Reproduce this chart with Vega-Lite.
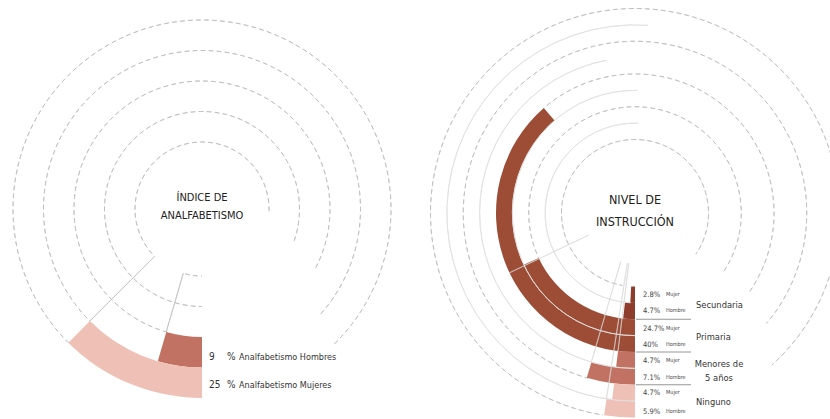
{
  "$schema": "https://vega.github.io/schema/vega-lite/v6.json",
  "width": 830,
  "height": 419,
  "padding": 0,
  "autosize": {"type": "none"},
  "background": "white",
  "config": {"view": {"stroke": null}},
  "datasets": {
    "rings": [
      {"chart": "A", "id": "A0a", "r": 0, "t1": 180, "t2": 196},
      {"chart": "A", "id": "A0b", "r": 0, "t1": 225, "t2": 453},
      {"chart": "A", "id": "A1", "r": 1, "t1": 180, "t2": 470},
      {"chart": "A", "id": "A2", "r": 2, "t1": 196, "t2": 478},
      {"chart": "A", "id": "A3", "r": 3, "t1": 225, "t2": 492},
      {"chart": "A", "id": "A4", "r": 4, "t1": 225, "t2": 496},
      {"chart": "B", "id": "B0", "r": 0, "t1": 190, "t2": 484},
      {"chart": "B", "id": "B2", "r": 2, "t1": 245, "t2": 484},
      {"chart": "B", "id": "B4", "r": 4, "t1": 319, "t2": 485},
      {"chart": "B", "id": "B6", "r": 6, "t1": 196, "t2": 490},
      {"chart": "B", "id": "B8", "r": 8, "t1": 189, "t2": 498}
    ],
    "solidrings": [
      {"chart": "B", "r": 1, "t1": 183, "t2": 362},
      {"chart": "B", "r": 3, "t1": 180, "t2": 361},
      {"chart": "B", "r": 5, "t1": 180, "t2": 349.6},
      {"chart": "B", "r": 7, "t1": 180, "t2": 364}
    ],
    "bars": [
      {"chart": "A", "cat": "Hombres", "pct": 9, "r1": 2, "r2": 3, "t1": 180, "t2": 196.2},
      {"chart": "A", "cat": "Mujeres", "pct": 25, "r1": 3, "r2": 4, "t1": 180, "t2": 225},
      {"chart": "B", "cat": "Secundaria", "sexo": "Mujer", "pct": 2.8, "r1": 0, "r2": 1, "t1": 180, "t2": 183},
      {"chart": "B", "cat": "Secundaria", "sexo": "Hombre", "pct": 4.7, "r1": 1, "r2": 2, "t1": 180, "t2": 186.4},
      {"chart": "B", "cat": "Primaria", "sexo": "Mujer", "pct": 24.7, "r1": 2, "r2": 3, "t1": 180, "t2": 245},
      {"chart": "B", "cat": "Primaria", "sexo": "Hombre", "pct": 40, "r1": 3, "r2": 4, "t1": 180, "t2": 319},
      {"chart": "B", "cat": "Menores", "sexo": "Mujer", "pct": 4.7, "r1": 4, "r2": 5, "t1": 180, "t2": 187},
      {"chart": "B", "cat": "Menores", "sexo": "Hombre", "pct": 7.1, "r1": 5, "r2": 6, "t1": 180, "t2": 196.3},
      {"chart": "B", "cat": "Ninguno", "sexo": "Mujer", "pct": 4.7, "r1": 6, "r2": 7, "t1": 180, "t2": 187},
      {"chart": "B", "cat": "Ninguno", "sexo": "Hombre", "pct": 5.9, "r1": 7, "r2": 8, "t1": 180, "t2": 188.7}
    ],
    "radials": [
      {"chart": "A", "r1": 0, "r2": 3, "t1": 225, "t2": 225.05},
      {"chart": "A", "r1": 0, "r2": 2, "t1": 196.2, "t2": 196.25},
      {"chart": "B", "r1": -1.35, "r2": 4, "t1": 244.5, "t2": 244.55},
      {"chart": "B", "r1": -1.4, "r2": 7, "t1": 188.7, "t2": 188.75},
      {"chart": "B", "r1": -1.4, "r2": 5, "t1": 196.3, "t2": 196.35},
      {"chart": "B", "r1": -1.4, "r2": 4, "t1": 187, "t2": 187.05}
    ],
    "titles": [
      {"chart": "A", "lines": ["ÍNDICE DE", "ANALFABETISMO"]},
      {"chart": "B", "lines": ["NIVEL DE", "INSTRUCCIÓN"]}
    ],
    "leftlabels": [
      {"chart": "A", "t": 180, "r": 2.66, "num": "9", "name": "Analfabetismo Hombres"},
      {"chart": "A", "t": 180, "r": 3.57, "num": "25", "name": "Analfabetismo Mujeres"}
    ],
    "rightlabels": [
      {"chart": "B", "t": 180, "r": 0.5, "pct": "2.8%", "sexo": "Mujer"},
      {"chart": "B", "t": 180, "r": 1.5, "pct": "4.7%", "sexo": "Hombre"},
      {"chart": "B", "t": 180, "r": 2.6, "pct": "24.7%", "sexo": "Mujer"},
      {"chart": "B", "t": 180, "r": 3.6, "pct": "40%", "sexo": "Hombre"},
      {"chart": "B", "t": 180, "r": 4.55, "pct": "4.7%", "sexo": "Mujer"},
      {"chart": "B", "t": 180, "r": 5.6, "pct": "7.1%", "sexo": "Hombre"},
      {"chart": "B", "t": 180, "r": 6.5, "pct": "4.7%", "sexo": "Mujer"},
      {"chart": "B", "t": 180, "r": 7.65, "pct": "5.9%", "sexo": "Hombre"}
    ],
    "cats": [
      {"chart": "B", "t": 180, "r": 1.13, "label": "Secundaria"},
      {"chart": "B", "t": 180, "r": 3.08, "label": "Primaria"},
      {"chart": "B", "t": 180, "r": 7.05, "label": "Ninguno"}
    ],
    "cats2": [
      {"chart": "B", "t": 180, "r": 4.73, "label": ["Menores de", "5 años"]}
    ],
    "seps": [
      {"chart": "B", "r": 2},
      {"chart": "B", "r": 4},
      {"chart": "B", "r": 6}
    ]
  },
  "resolve": {"scale": {"radius": "independent", "y": "independent"}},
  "layer": [
    {"data": {"name": "rings"}, "transform": [{"filter": "datum.id === 'A0a'"}],
     "mark": {"type": "arc", "filled": false, "stroke": "#bdbdbd", "strokeWidth": 0.8, "strokeDash": [4.5, 3.5], "strokeDashOffset": 3.540},
     "encoding": {
       "x": {"field": "chart", "type": "nominal", "scale": {"type": "point", "domain": ["A", "B"], "range": [202, 635], "padding": 0}, "axis": null},
       "y": {"field": "chart", "type": "nominal", "scale": {"type": "point", "domain": ["A", "B"], "range": [209, 213], "padding": 0}, "axis": null},
       "theta": {"field": "t1", "type": "quantitative", "scale": {"type": "linear", "domain": [0, 360], "range": [0, 6.283185307179586], "zero": false, "nice": false}, "stack": null},
       "theta2": {"field": "t2"},
       "radius": {"field": "r", "type": "quantitative", "scale": {"type": "linear", "domain": [0, 4], "range": [67, 189], "zero": false, "nice": false}},
       "radius2": {"field": "r"}}},
    {"data": {"name": "rings"}, "transform": [{"filter": "datum.id === 'A0b'"}],
     "mark": {"type": "arc", "filled": false, "stroke": "#bdbdbd", "strokeWidth": 0.8, "strokeDash": [4.5, 3.5], "strokeDashOffset": 3.634},
     "encoding": {
       "x": {"field": "chart", "type": "nominal", "scale": {"type": "point", "domain": ["A", "B"], "range": [202, 635], "padding": 0}, "axis": null},
       "y": {"field": "chart", "type": "nominal", "scale": {"type": "point", "domain": ["A", "B"], "range": [209, 213], "padding": 0}, "axis": null},
       "theta": {"field": "t1", "type": "quantitative", "scale": {"type": "linear", "domain": [0, 360], "range": [0, 6.283185307179586], "zero": false, "nice": false}, "stack": null},
       "theta2": {"field": "t2"},
       "radius": {"field": "r", "type": "quantitative", "scale": {"type": "linear", "domain": [0, 4], "range": [67, 189], "zero": false, "nice": false}},
       "radius2": {"field": "r"}}},
    {"data": {"name": "rings"}, "transform": [{"filter": "datum.id === 'A1'"}],
     "mark": {"type": "arc", "filled": false, "stroke": "#bdbdbd", "strokeWidth": 0.8, "strokeDash": [4.5, 3.5], "strokeDashOffset": 0.758},
     "encoding": {
       "x": {"field": "chart", "type": "nominal", "scale": {"type": "point", "domain": ["A", "B"], "range": [202, 635], "padding": 0}, "axis": null},
       "y": {"field": "chart", "type": "nominal", "scale": {"type": "point", "domain": ["A", "B"], "range": [209, 213], "padding": 0}, "axis": null},
       "theta": {"field": "t1", "type": "quantitative", "scale": {"type": "linear", "domain": [0, 360], "range": [0, 6.283185307179586], "zero": false, "nice": false}, "stack": null},
       "theta2": {"field": "t2"},
       "radius": {"field": "r", "type": "quantitative", "scale": {"type": "linear", "domain": [0, 4], "range": [67, 189], "zero": false, "nice": false}},
       "radius2": {"field": "r"}}},
    {"data": {"name": "rings"}, "transform": [{"filter": "datum.id === 'A2'"}],
     "mark": {"type": "arc", "filled": false, "stroke": "#bdbdbd", "strokeWidth": 0.8, "strokeDash": [4.5, 3.5], "strokeDashOffset": 0.256},
     "encoding": {
       "x": {"field": "chart", "type": "nominal", "scale": {"type": "point", "domain": ["A", "B"], "range": [202, 635], "padding": 0}, "axis": null},
       "y": {"field": "chart", "type": "nominal", "scale": {"type": "point", "domain": ["A", "B"], "range": [209, 213], "padding": 0}, "axis": null},
       "theta": {"field": "t1", "type": "quantitative", "scale": {"type": "linear", "domain": [0, 360], "range": [0, 6.283185307179586], "zero": false, "nice": false}, "stack": null},
       "theta2": {"field": "t2"},
       "radius": {"field": "r", "type": "quantitative", "scale": {"type": "linear", "domain": [0, 4], "range": [67, 189], "zero": false, "nice": false}},
       "radius2": {"field": "r"}}},
    {"data": {"name": "rings"}, "transform": [{"filter": "datum.id === 'A3'"}],
     "mark": {"type": "arc", "filled": false, "stroke": "#bdbdbd", "strokeWidth": 0.8, "strokeDash": [4.5, 3.5], "strokeDashOffset": 3.635},
     "encoding": {
       "x": {"field": "chart", "type": "nominal", "scale": {"type": "point", "domain": ["A", "B"], "range": [202, 635], "padding": 0}, "axis": null},
       "y": {"field": "chart", "type": "nominal", "scale": {"type": "point", "domain": ["A", "B"], "range": [209, 213], "padding": 0}, "axis": null},
       "theta": {"field": "t1", "type": "quantitative", "scale": {"type": "linear", "domain": [0, 360], "range": [0, 6.283185307179586], "zero": false, "nice": false}, "stack": null},
       "theta2": {"field": "t2"},
       "radius": {"field": "r", "type": "quantitative", "scale": {"type": "linear", "domain": [0, 4], "range": [67, 189], "zero": false, "nice": false}},
       "radius2": {"field": "r"}}},
    {"data": {"name": "rings"}, "transform": [{"filter": "datum.id === 'A4'"}],
     "mark": {"type": "arc", "filled": false, "stroke": "#bdbdbd", "strokeWidth": 0.8, "strokeDash": [4.5, 3.5], "strokeDashOffset": 0.310},
     "encoding": {
       "x": {"field": "chart", "type": "nominal", "scale": {"type": "point", "domain": ["A", "B"], "range": [202, 635], "padding": 0}, "axis": null},
       "y": {"field": "chart", "type": "nominal", "scale": {"type": "point", "domain": ["A", "B"], "range": [209, 213], "padding": 0}, "axis": null},
       "theta": {"field": "t1", "type": "quantitative", "scale": {"type": "linear", "domain": [0, 360], "range": [0, 6.283185307179586], "zero": false, "nice": false}, "stack": null},
       "theta2": {"field": "t2"},
       "radius": {"field": "r", "type": "quantitative", "scale": {"type": "linear", "domain": [0, 4], "range": [67, 189], "zero": false, "nice": false}},
       "radius2": {"field": "r"}}},
    {"data": {"name": "rings"}, "transform": [{"filter": "datum.id === 'B0'"}],
     "mark": {"type": "arc", "filled": false, "stroke": "#bdbdbd", "strokeWidth": 0.8, "strokeDash": [4.5, 3.5], "strokeDashOffset": 1.102},
     "encoding": {
       "x": {"field": "chart", "type": "nominal", "scale": {"type": "point", "domain": ["A", "B"], "range": [202, 635], "padding": 0}, "axis": null},
       "y": {"field": "chart", "type": "nominal", "scale": {"type": "point", "domain": ["A", "B"], "range": [209, 213], "padding": 0}, "axis": null},
       "theta": {"field": "t1", "type": "quantitative", "scale": {"type": "linear", "domain": [0, 360], "range": [0, 6.283185307179586], "zero": false, "nice": false}, "stack": null},
       "theta2": {"field": "t2"},
       "radius": {"field": "r", "type": "quantitative", "scale": {"type": "linear", "domain": [0, 8], "range": [73.5, 204.5], "zero": false, "nice": false}},
       "radius2": {"field": "r"}}},
    {"data": {"name": "rings"}, "transform": [{"filter": "datum.id === 'B2'"}],
     "mark": {"type": "arc", "filled": false, "stroke": "#bdbdbd", "strokeWidth": 0.8, "strokeDash": [4.5, 3.5], "strokeDashOffset": 3.045},
     "encoding": {
       "x": {"field": "chart", "type": "nominal", "scale": {"type": "point", "domain": ["A", "B"], "range": [202, 635], "padding": 0}, "axis": null},
       "y": {"field": "chart", "type": "nominal", "scale": {"type": "point", "domain": ["A", "B"], "range": [209, 213], "padding": 0}, "axis": null},
       "theta": {"field": "t1", "type": "quantitative", "scale": {"type": "linear", "domain": [0, 360], "range": [0, 6.283185307179586], "zero": false, "nice": false}, "stack": null},
       "theta2": {"field": "t2"},
       "radius": {"field": "r", "type": "quantitative", "scale": {"type": "linear", "domain": [0, 8], "range": [73.5, 204.5], "zero": false, "nice": false}},
       "radius2": {"field": "r"}}},
    {"data": {"name": "rings"}, "transform": [{"filter": "datum.id === 'B4'"}],
     "mark": {"type": "arc", "filled": false, "stroke": "#bdbdbd", "strokeWidth": 0.8, "strokeDash": [4.5, 3.5], "strokeDashOffset": 3.533},
     "encoding": {
       "x": {"field": "chart", "type": "nominal", "scale": {"type": "point", "domain": ["A", "B"], "range": [202, 635], "padding": 0}, "axis": null},
       "y": {"field": "chart", "type": "nominal", "scale": {"type": "point", "domain": ["A", "B"], "range": [209, 213], "padding": 0}, "axis": null},
       "theta": {"field": "t1", "type": "quantitative", "scale": {"type": "linear", "domain": [0, 360], "range": [0, 6.283185307179586], "zero": false, "nice": false}, "stack": null},
       "theta2": {"field": "t2"},
       "radius": {"field": "r", "type": "quantitative", "scale": {"type": "linear", "domain": [0, 8], "range": [73.5, 204.5], "zero": false, "nice": false}},
       "radius2": {"field": "r"}}},
    {"data": {"name": "rings"}, "transform": [{"filter": "datum.id === 'B6'"}],
     "mark": {"type": "arc", "filled": false, "stroke": "#bdbdbd", "strokeWidth": 0.8, "strokeDash": [4.5, 3.5], "strokeDashOffset": 0.955},
     "encoding": {
       "x": {"field": "chart", "type": "nominal", "scale": {"type": "point", "domain": ["A", "B"], "range": [202, 635], "padding": 0}, "axis": null},
       "y": {"field": "chart", "type": "nominal", "scale": {"type": "point", "domain": ["A", "B"], "range": [209, 213], "padding": 0}, "axis": null},
       "theta": {"field": "t1", "type": "quantitative", "scale": {"type": "linear", "domain": [0, 360], "range": [0, 6.283185307179586], "zero": false, "nice": false}, "stack": null},
       "theta2": {"field": "t2"},
       "radius": {"field": "r", "type": "quantitative", "scale": {"type": "linear", "domain": [0, 8], "range": [73.5, 204.5], "zero": false, "nice": false}},
       "radius2": {"field": "r"}}},
    {"data": {"name": "rings"}, "transform": [{"filter": "datum.id === 'B8'"}],
     "mark": {"type": "arc", "filled": false, "stroke": "#bdbdbd", "strokeWidth": 0.8, "strokeDash": [4.5, 3.5], "strokeDashOffset": 3.368},
     "encoding": {
       "x": {"field": "chart", "type": "nominal", "scale": {"type": "point", "domain": ["A", "B"], "range": [202, 635], "padding": 0}, "axis": null},
       "y": {"field": "chart", "type": "nominal", "scale": {"type": "point", "domain": ["A", "B"], "range": [209, 213], "padding": 0}, "axis": null},
       "theta": {"field": "t1", "type": "quantitative", "scale": {"type": "linear", "domain": [0, 360], "range": [0, 6.283185307179586], "zero": false, "nice": false}, "stack": null},
       "theta2": {"field": "t2"},
       "radius": {"field": "r", "type": "quantitative", "scale": {"type": "linear", "domain": [0, 8], "range": [73.5, 204.5], "zero": false, "nice": false}},
       "radius2": {"field": "r"}}},
    {"data": {"name": "bars"}, "transform": [{"filter": "datum.chart === 'A'"}],
     "mark": {"type": "arc", "stroke": null},
     "encoding": {
       "x": {"field": "chart", "type": "nominal", "scale": {"type": "point", "domain": ["A", "B"], "range": [202, 635], "padding": 0}, "axis": null},
       "y": {"field": "chart", "type": "nominal", "scale": {"type": "point", "domain": ["A", "B"], "range": [209, 213], "padding": 0}, "axis": null},
       "theta": {"field": "t1", "type": "quantitative", "scale": {"type": "linear", "domain": [0, 360], "range": [0, 6.283185307179586], "zero": false, "nice": false}, "stack": null},
       "theta2": {"field": "t2"},
       "radius": {"field": "r2", "type": "quantitative", "scale": {"type": "linear", "domain": [0, 4], "range": [67, 189], "zero": false, "nice": false}},
       "radius2": {"field": "r1"},
       "fill": {"field": "cat", "type": "nominal", "scale": {"domain": ["Hombres", "Mujeres", "Secundaria", "Primaria", "Menores", "Ninguno"], "range": ["#c27262", "#efc0b6", "#8e3d2d", "#9d4d36", "#c27262", "#efc0b6"]}, "legend": null}}},
    {"data": {"name": "bars"}, "transform": [{"filter": "datum.chart === 'B'"}],
     "mark": {"type": "arc", "stroke": null},
     "encoding": {
       "x": {"field": "chart", "type": "nominal", "scale": {"type": "point", "domain": ["A", "B"], "range": [202, 635], "padding": 0}, "axis": null},
       "y": {"field": "chart", "type": "nominal", "scale": {"type": "point", "domain": ["A", "B"], "range": [209, 213], "padding": 0}, "axis": null},
       "theta": {"field": "t1", "type": "quantitative", "scale": {"type": "linear", "domain": [0, 360], "range": [0, 6.283185307179586], "zero": false, "nice": false}, "stack": null},
       "theta2": {"field": "t2"},
       "radius": {"field": "r2", "type": "quantitative", "scale": {"type": "linear", "domain": [0, 8], "range": [73.5, 204.5], "zero": false, "nice": false}},
       "radius2": {"field": "r1"},
       "fill": {"field": "cat", "type": "nominal", "scale": {"domain": ["Hombres", "Mujeres", "Secundaria", "Primaria", "Menores", "Ninguno"], "range": ["#c27262", "#efc0b6", "#8e3d2d", "#9d4d36", "#c27262", "#efc0b6"]}, "legend": null}}},
    {"data": {"name": "solidrings"},
     "mark": {"type": "arc", "filled": false, "stroke": "#e0e0e0", "strokeWidth": 0.8},
     "encoding": {
       "x": {"field": "chart", "type": "nominal", "scale": {"type": "point", "domain": ["A", "B"], "range": [202, 635], "padding": 0}, "axis": null},
       "y": {"field": "chart", "type": "nominal", "scale": {"type": "point", "domain": ["A", "B"], "range": [209, 213], "padding": 0}, "axis": null},
       "theta": {"field": "t1", "type": "quantitative", "scale": {"type": "linear", "domain": [0, 360], "range": [0, 6.283185307179586], "zero": false, "nice": false}, "stack": null},
       "theta2": {"field": "t2"},
       "radius": {"field": "r", "type": "quantitative", "scale": {"type": "linear", "domain": [0, 8], "range": [73.5, 204.5], "zero": false, "nice": false}},
       "radius2": {"field": "r"}}},
    {"data": {"name": "radials"}, "transform": [{"filter": "datum.chart === 'A'"}],
     "mark": {"type": "arc", "filled": false, "stroke": "#bdbdbd", "strokeWidth": 0.7},
     "encoding": {
       "x": {"field": "chart", "type": "nominal", "scale": {"type": "point", "domain": ["A", "B"], "range": [202, 635], "padding": 0}, "axis": null},
       "y": {"field": "chart", "type": "nominal", "scale": {"type": "point", "domain": ["A", "B"], "range": [209, 213], "padding": 0}, "axis": null},
       "theta": {"field": "t1", "type": "quantitative", "scale": {"type": "linear", "domain": [0, 360], "range": [0, 6.283185307179586], "zero": false, "nice": false}, "stack": null},
       "theta2": {"field": "t2"},
       "radius": {"field": "r2", "type": "quantitative", "scale": {"type": "linear", "domain": [0, 4], "range": [67, 189], "zero": false, "nice": false}},
       "radius2": {"field": "r1"}}},
    {"data": {"name": "radials"}, "transform": [{"filter": "datum.chart === 'B'"}],
     "mark": {"type": "arc", "filled": false, "stroke": "#d6d6d6", "strokeWidth": 0.6},
     "encoding": {
       "x": {"field": "chart", "type": "nominal", "scale": {"type": "point", "domain": ["A", "B"], "range": [202, 635], "padding": 0}, "axis": null},
       "y": {"field": "chart", "type": "nominal", "scale": {"type": "point", "domain": ["A", "B"], "range": [209, 213], "padding": 0}, "axis": null},
       "theta": {"field": "t1", "type": "quantitative", "scale": {"type": "linear", "domain": [0, 360], "range": [0, 6.283185307179586], "zero": false, "nice": false}, "stack": null},
       "theta2": {"field": "t2"},
       "radius": {"field": "r2", "type": "quantitative", "scale": {"type": "linear", "domain": [0, 8], "range": [73.5, 204.5], "zero": false, "nice": false}},
       "radius2": {"field": "r1"}}},
    {"data": {"name": "seps"},
     "mark": {"type": "rule", "stroke": "#8a8a8a", "strokeWidth": 0.9, "xOffset": 1, "x2Offset": 56},
     "encoding": {
       "x": {"field": "chart", "type": "nominal", "scale": {"type": "point", "domain": ["A", "B"], "range": [202, 635], "padding": 0}, "axis": null},
       "x2": {"field": "chart"},
       "y": {"field": "r", "type": "quantitative", "scale": {"type": "linear", "domain": [0, 8], "range": [286.5, 417.5], "zero": false, "nice": false}, "axis": null}}},
    {"data": {"name": "titles"}, "transform": [{"filter": "datum.chart === 'A'"}],
     "mark": {"type": "text", "align": "center", "baseline": "middle", "dy": -11, "fontSize": 11, "lineHeight": 18, "font": "DejaVu Sans Condensed, sans-serif", "color": "#222222"},
     "encoding": {
       "x": {"field": "chart", "type": "nominal", "scale": {"type": "point", "domain": ["A", "B"], "range": [202, 635], "padding": 0}, "axis": null},
       "y": {"field": "chart", "type": "nominal", "scale": {"type": "point", "domain": ["A", "B"], "range": [209, 213], "padding": 0}, "axis": null},
       "text": {"field": "lines"}}},
    {"data": {"name": "titles"}, "transform": [{"filter": "datum.chart === 'B'"}],
     "mark": {"type": "text", "align": "center", "baseline": "middle", "dy": -13, "fontSize": 12.5, "lineHeight": 22, "font": "DejaVu Sans Condensed, sans-serif", "color": "#222222"},
     "encoding": {
       "x": {"field": "chart", "type": "nominal", "scale": {"type": "point", "domain": ["A", "B"], "range": [202, 635], "padding": 0}, "axis": null},
       "y": {"field": "chart", "type": "nominal", "scale": {"type": "point", "domain": ["A", "B"], "range": [209, 213], "padding": 0}, "axis": null},
       "text": {"field": "lines"}}},
    {"data": {"name": "leftlabels"},
     "mark": {"type": "text", "align": "left", "baseline": "middle", "dx": 7, "fontSize": 10, "font": "DejaVu Sans Condensed, sans-serif", "color": "#333333"},
     "encoding": {
       "x": {"field": "chart", "type": "nominal", "scale": {"type": "point", "domain": ["A", "B"], "range": [202, 635], "padding": 0}, "axis": null},
       "y": {"field": "chart", "type": "nominal", "scale": {"type": "point", "domain": ["A", "B"], "range": [209, 213], "padding": 0}, "axis": null},
       "theta": {"field": "t", "type": "quantitative", "scale": {"type": "linear", "domain": [0, 360], "range": [0, 6.283185307179586], "zero": false, "nice": false}, "stack": null},
       "radius": {"field": "r", "type": "quantitative", "scale": {"type": "linear", "domain": [0, 4], "range": [67, 189], "zero": false, "nice": false}},
       "text": {"field": "num"}}},
    {"data": {"name": "leftlabels"},
     "mark": {"type": "text", "align": "left", "baseline": "middle", "dx": 25, "fontSize": 10, "font": "DejaVu Sans Condensed, sans-serif", "color": "#333333"},
     "encoding": {
       "x": {"field": "chart", "type": "nominal", "scale": {"type": "point", "domain": ["A", "B"], "range": [202, 635], "padding": 0}, "axis": null},
       "y": {"field": "chart", "type": "nominal", "scale": {"type": "point", "domain": ["A", "B"], "range": [209, 213], "padding": 0}, "axis": null},
       "theta": {"field": "t", "type": "quantitative", "scale": {"type": "linear", "domain": [0, 360], "range": [0, 6.283185307179586], "zero": false, "nice": false}, "stack": null},
       "radius": {"field": "r", "type": "quantitative", "scale": {"type": "linear", "domain": [0, 4], "range": [67, 189], "zero": false, "nice": false}},
       "text": {"value": "%"}}},
    {"data": {"name": "leftlabels"},
     "mark": {"type": "text", "align": "left", "baseline": "middle", "dx": 37, "fontSize": 9, "font": "DejaVu Sans Condensed, sans-serif", "color": "#333333"},
     "encoding": {
       "x": {"field": "chart", "type": "nominal", "scale": {"type": "point", "domain": ["A", "B"], "range": [202, 635], "padding": 0}, "axis": null},
       "y": {"field": "chart", "type": "nominal", "scale": {"type": "point", "domain": ["A", "B"], "range": [209, 213], "padding": 0}, "axis": null},
       "theta": {"field": "t", "type": "quantitative", "scale": {"type": "linear", "domain": [0, 360], "range": [0, 6.283185307179586], "zero": false, "nice": false}, "stack": null},
       "radius": {"field": "r", "type": "quantitative", "scale": {"type": "linear", "domain": [0, 4], "range": [67, 189], "zero": false, "nice": false}},
       "text": {"field": "name"}}},
    {"data": {"name": "rightlabels"},
     "mark": {"type": "text", "align": "left", "baseline": "middle", "dx": 8, "fontSize": 7.5, "font": "DejaVu Sans Condensed, sans-serif", "color": "#444444"},
     "encoding": {
       "x": {"field": "chart", "type": "nominal", "scale": {"type": "point", "domain": ["A", "B"], "range": [202, 635], "padding": 0}, "axis": null},
       "y": {"field": "chart", "type": "nominal", "scale": {"type": "point", "domain": ["A", "B"], "range": [209, 213], "padding": 0}, "axis": null},
       "theta": {"field": "t", "type": "quantitative", "scale": {"type": "linear", "domain": [0, 360], "range": [0, 6.283185307179586], "zero": false, "nice": false}, "stack": null},
       "radius": {"field": "r", "type": "quantitative", "scale": {"type": "linear", "domain": [0, 8], "range": [73.5, 204.5], "zero": false, "nice": false}},
       "text": {"field": "pct"}}},
    {"data": {"name": "rightlabels"},
     "mark": {"type": "text", "align": "left", "baseline": "middle", "dx": 31, "dy": -1, "fontSize": 5.5, "font": "DejaVu Sans Condensed, sans-serif", "color": "#444444"},
     "encoding": {
       "x": {"field": "chart", "type": "nominal", "scale": {"type": "point", "domain": ["A", "B"], "range": [202, 635], "padding": 0}, "axis": null},
       "y": {"field": "chart", "type": "nominal", "scale": {"type": "point", "domain": ["A", "B"], "range": [209, 213], "padding": 0}, "axis": null},
       "theta": {"field": "t", "type": "quantitative", "scale": {"type": "linear", "domain": [0, 360], "range": [0, 6.283185307179586], "zero": false, "nice": false}, "stack": null},
       "radius": {"field": "r", "type": "quantitative", "scale": {"type": "linear", "domain": [0, 8], "range": [73.5, 204.5], "zero": false, "nice": false}},
       "text": {"field": "sexo"}}},
    {"data": {"name": "cats"},
     "mark": {"type": "text", "align": "left", "baseline": "middle", "dx": 61, "fontSize": 9.3, "font": "DejaVu Sans Condensed, sans-serif", "color": "#333333"},
     "encoding": {
       "x": {"field": "chart", "type": "nominal", "scale": {"type": "point", "domain": ["A", "B"], "range": [202, 635], "padding": 0}, "axis": null},
       "y": {"field": "chart", "type": "nominal", "scale": {"type": "point", "domain": ["A", "B"], "range": [209, 213], "padding": 0}, "axis": null},
       "theta": {"field": "t", "type": "quantitative", "scale": {"type": "linear", "domain": [0, 360], "range": [0, 6.283185307179586], "zero": false, "nice": false}, "stack": null},
       "radius": {"field": "r", "type": "quantitative", "scale": {"type": "linear", "domain": [0, 8], "range": [73.5, 204.5], "zero": false, "nice": false}},
       "text": {"field": "label"}}},
    {"data": {"name": "cats2"},
     "mark": {"type": "text", "align": "center", "baseline": "middle", "dx": 84, "fontSize": 9.3, "lineHeight": 14, "font": "DejaVu Sans Condensed, sans-serif", "color": "#333333"},
     "encoding": {
       "x": {"field": "chart", "type": "nominal", "scale": {"type": "point", "domain": ["A", "B"], "range": [202, 635], "padding": 0}, "axis": null},
       "y": {"field": "chart", "type": "nominal", "scale": {"type": "point", "domain": ["A", "B"], "range": [209, 213], "padding": 0}, "axis": null},
       "theta": {"field": "t", "type": "quantitative", "scale": {"type": "linear", "domain": [0, 360], "range": [0, 6.283185307179586], "zero": false, "nice": false}, "stack": null},
       "radius": {"field": "r", "type": "quantitative", "scale": {"type": "linear", "domain": [0, 8], "range": [73.5, 204.5], "zero": false, "nice": false}},
       "text": {"field": "label"}}}
  ]
}
